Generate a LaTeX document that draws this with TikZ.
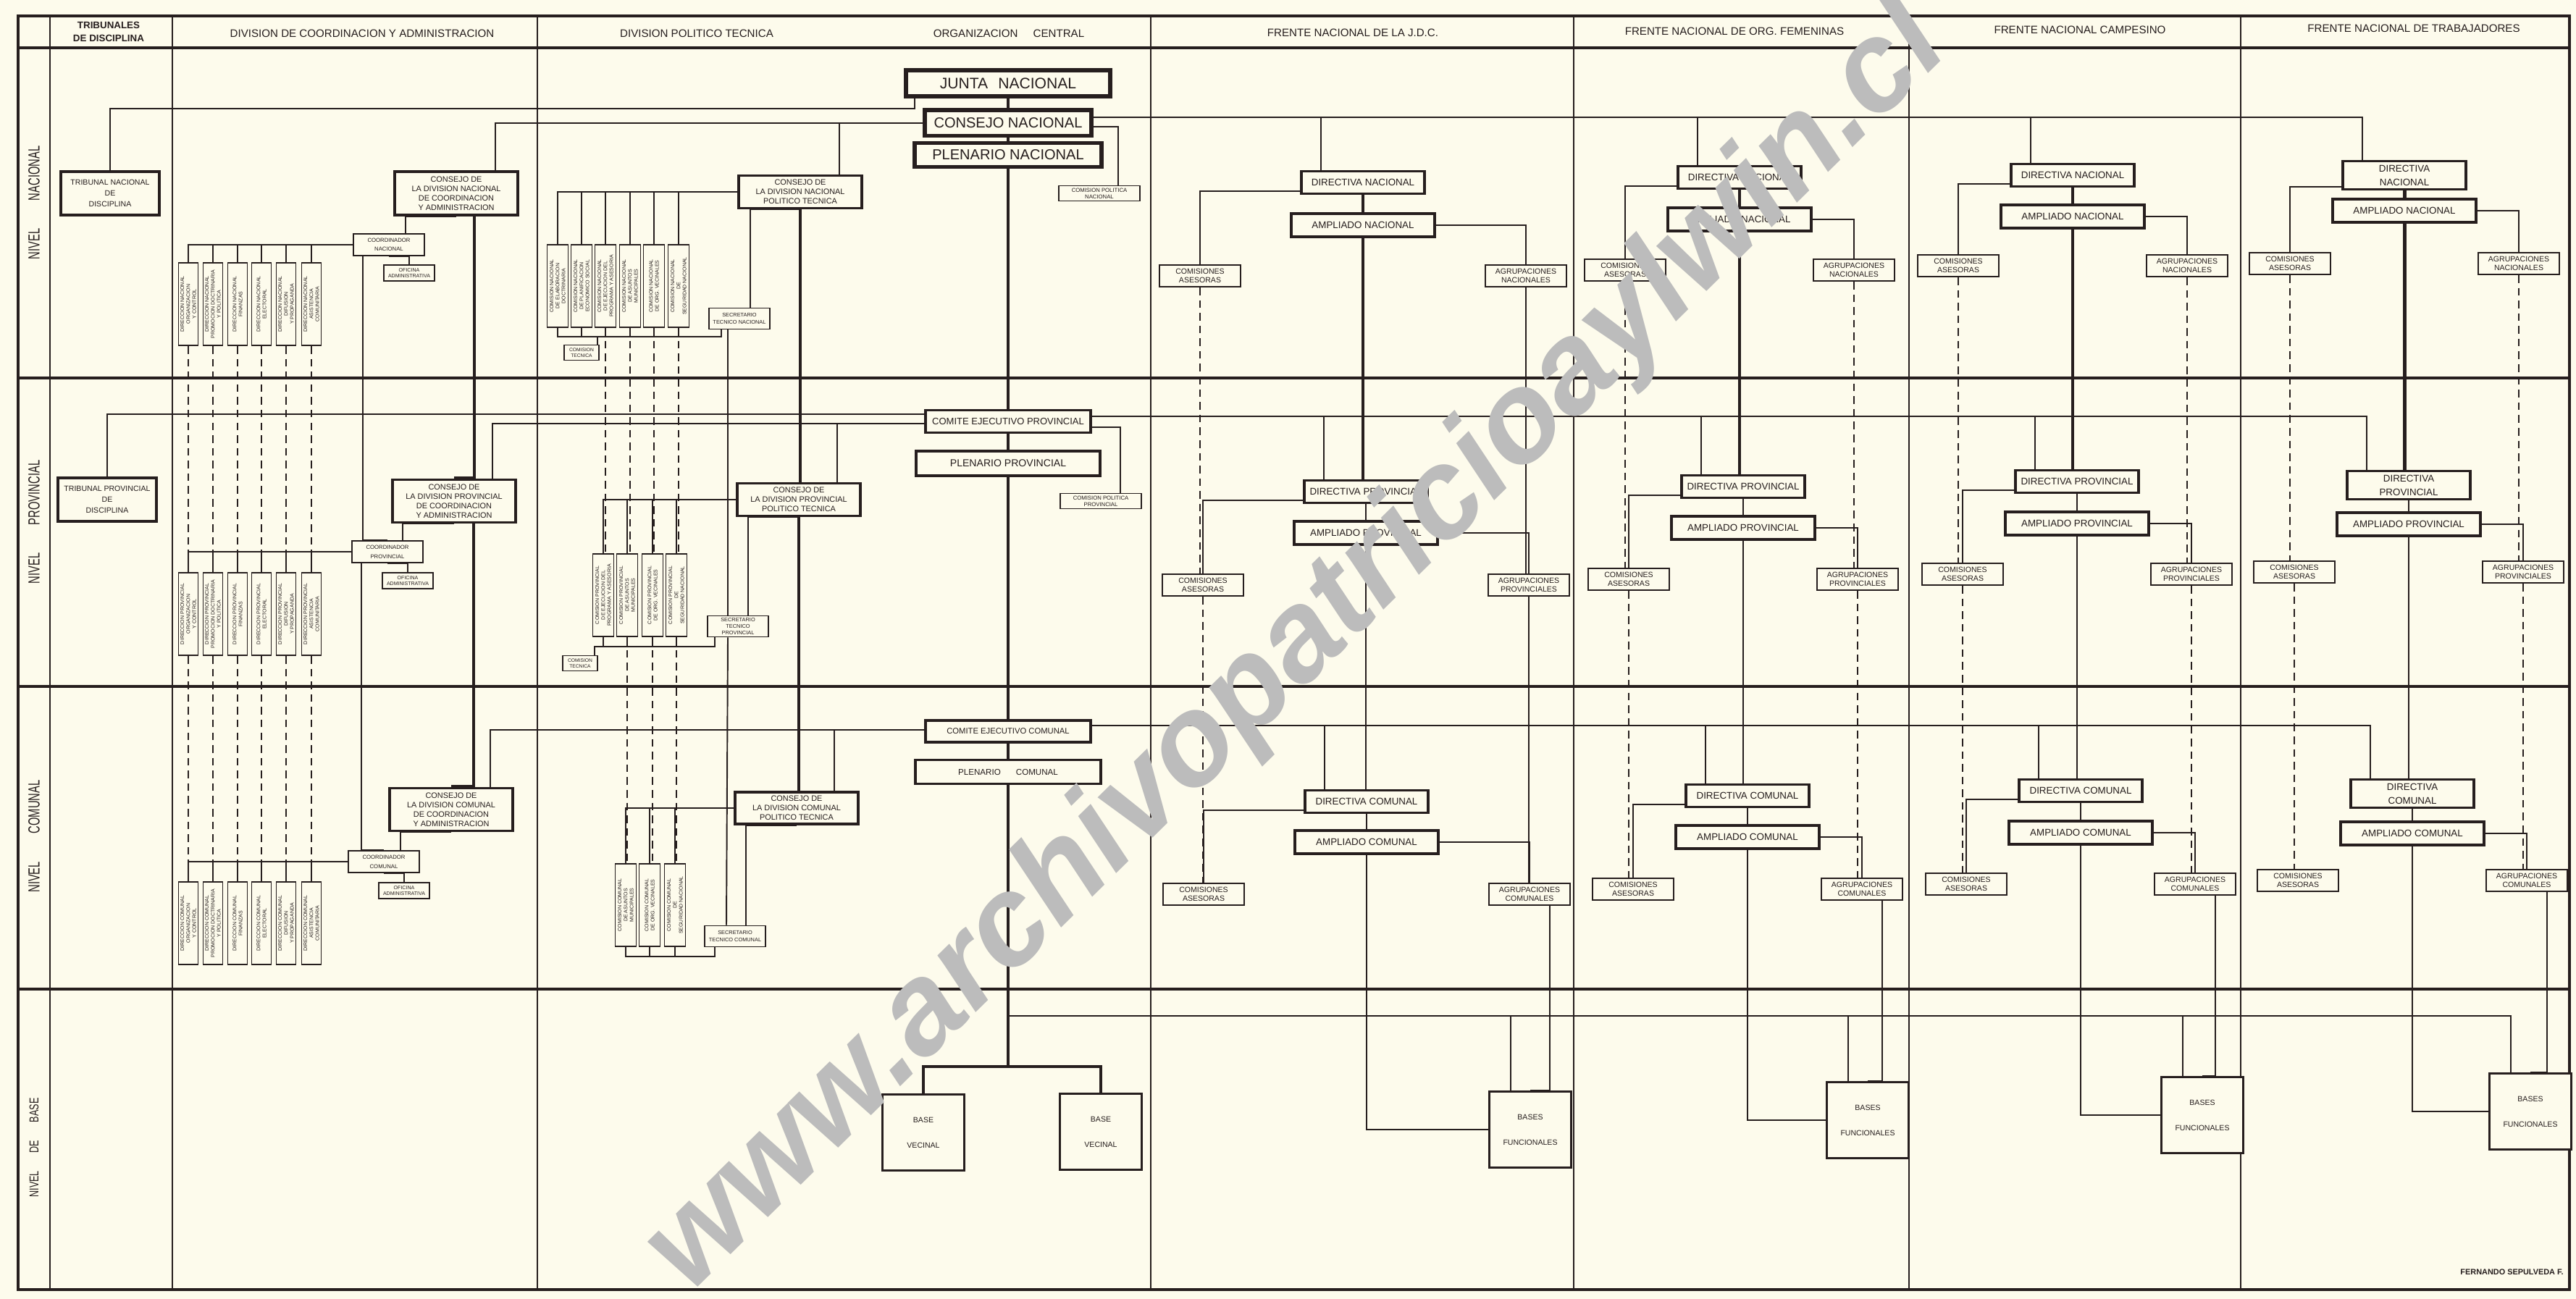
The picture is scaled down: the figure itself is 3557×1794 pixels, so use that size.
\documentclass[tikz,border=0pt]{standalone}
\usepackage{fontspec}
\setmainfont{Liberation Sans}
\usetikzlibrary{calc}
\definecolor{paper}{RGB}{253,251,236}
\definecolor{ink}{RGB}{38,30,30}
\definecolor{mark}{RGB}{188,188,188}
\newcommand{\fsz}[2]{\fontsize{#1}{#2}\selectfont}

\begin{document}
\begin{tikzpicture}[x=0.01cm,y=-0.01cm,
  gridline/.style={draw=ink,line width=0.9pt},
  colline/.style={draw=ink,line width=0.6pt},
  trunk/.style={draw=ink,line width=0.8pt},
  conn/.style={draw=ink,line width=0.55pt},
  spine/.style={draw=ink,line width=1.4pt},
  dsh/.style={draw=ink,line width=0.5pt,dash pattern=on 3pt off 2pt},
  obox/.style={draw=ink,fill=paper,text=ink,inner sep=0pt,align=center,line width=0.55pt},
  bigbox/.style={obox,line width=1.7pt},
  midbox/.style={obox,line width=1.1pt},
  colhead/.style={text=ink,align=center,font=\fsz{4.3}{5.4}},
  nivel/.style={text=ink,rotate=90,font=\fsz{4.2}{5}},
  vbox/.style={obox,rotate=90,minimum width=1.14cm,minimum height=0.27cm,font=\fsz{2}{2.35}},
  cons/.style={midbox,minimum width=1.70cm,font=\fsz{3.1}{3.7}},
  coordbox/.style={obox,minimum width=0.98cm,minimum height=0.30cm,font=\fsz{2.2}{3.6}},
  ofic/.style={obox,minimum width=0.70cm,minimum height=0.22cm,font=\fsz{2}{2.4}},
  secr/.style={obox,minimum width=0.84cm,minimum height=0.29cm,font=\fsz{2.1}{2.7}},
  ctec/.style={obox,minimum width=0.48cm,minimum height=0.21cm,font=\fsz{1.9}{2.4}},
  cpol/.style={obox,minimum width=1.12cm,minimum height=0.21cm,font=\fsz{2.2}{2.6}},
  trib/.style={midbox,minimum width=1.36cm,minimum height=0.60cm,font=\fsz{3}{4.2}},
  frdir/.style={midbox,inner ysep=1.5pt,minimum width=1.70cm,minimum height=0.31cm,font=\fsz{3.8}{5.4}},
  framp/.style={midbox,minimum width=1.98cm,minimum height=0.32cm,font=\fsz{3.8}{4.4}},
  frsml/.style={obox,minimum width=1.12cm,minimum height=0.30cm,font=\fsz{3}{3.5}},
  basebox/.style={obox,line width=0.8pt,minimum width=1.13cm,minimum height=1.05cm,font=\fsz{3}{10}},
]
\useasboundingbox (0,0) rectangle (3557,1794);
\fill[paper] (0,0) rectangle (3557,1794);

% cuadricula
\draw[gridline] (25,22) rectangle (3548,1781);
\draw[gridline] (25,66) -- (3548,66);
\foreach \y in {522,948,1366}
    \draw[gridline] (25,\y) -- (3548,\y);
\foreach \x in {69,238,742,1589,2173,2636,3094}
    \draw[colline] (\x,22) -- (\x,1781);

% titulos de columnas
\node[colhead,font=\fsz{3.8}{5.2}\bfseries] (htrib) at (150,44) {TRIBUNALES\\DE DISCIPLINA};
\node[colhead] (hdca) at (500,46) {DIVISION DE COORDINACION Y ADMINISTRACION};
\node[colhead] (hdpt) at (962,46) {DIVISION POLITICO TECNICA};
\node[colhead] (horg) at (1393,46) {ORGANIZACION\hspace{6pt}CENTRAL};
\node[colhead] (hjdc) at (1868,45) {FRENTE NACIONAL DE LA J.D.C.};
\node[colhead] (hfem) at (2395,43) {FRENTE NACIONAL DE ORG. FEMENINAS};
\node[colhead] (hcam) at (2872,41) {FRENTE NACIONAL CAMPESINO};
\node[colhead] (htra) at (3333,39) {FRENTE NACIONAL DE TRABAJADORES};

% niveles
\node[nivel] (nvnac) at (47,280) {\scalebox{1}[1.5]{NIVEL\hspace{11pt}NACIONAL}};
\node[nivel] (nvprov) at (47,721) {\scalebox{1}[1.5]{NIVEL\hspace{11pt}PROVINCIAL}};
\node[nivel] (nvcom) at (47,1155) {\scalebox{1}[1.5]{NIVEL\hspace{11pt}COMUNAL}};
\node[nivel,font=\fsz{3.6}{4}] (nvbase) at (47,1585) {\scalebox{1}[1.4]{NIVEL\hspace{7pt}DE\hspace{7pt}BASE}};

% organizacion central
\node[bigbox,minimum width=2.81cm,minimum height=0.36cm,font=\fsz{6}{7}] (junta) at (1392,115) {JUNTA\hspace{4pt}NACIONAL};
\node[bigbox,minimum width=2.30cm,minimum height=0.35cm,font=\fsz{5.7}{7}] (cnac) at (1392,170) {CONSEJO NACIONAL};
\node[bigbox,minimum width=2.58cm,minimum height=0.33cm,font=\fsz{5.7}{7}] (plnac) at (1392,214) {PLENARIO NACIONAL};
\node[cpol] (cpolnac) at (1518,267) {COMISION POLITICA\\NACIONAL};
\node[midbox,minimum width=2.28cm,minimum height=0.31cm,font=\fsz{3.7}{4.4}] (cep) at (1392,582) {COMITE EJECUTIVO PROVINCIAL};
\node[midbox,minimum width=2.54cm,minimum height=0.34cm,font=\fsz{4}{4.8}] (plp) at (1392,640) {PLENARIO PROVINCIAL};
\node[cpol] (cpolprov) at (1520,692) {COMISION POLITICA\\PROVINCIAL};
\node[midbox,minimum width=2.28cm,minimum height=0.30cm,font=\fsz{3.2}{4}] (cec) at (1392,1010) {COMITE EJECUTIVO COMUNAL};
\node[midbox,minimum width=2.56cm,minimum height=0.33cm,font=\fsz{3.3}{4}] (plc) at (1392,1066) {PLENARIO\hspace{6pt}COMUNAL};
\node[basebox] (bv1) at (1275,1564) {BASE\\VECINAL};
\node[basebox] (bv2) at (1520,1563) {BASE\\VECINAL};
\coordinate (fn) at ($(cnac.east)+(0,-8)$);
\coordinate (fp) at ($(cep.east)+(0,-7)$);
\coordinate (fc) at ($(cec.east)+(0,-8)$);
\coordinate (bj) at (1392,1473);
\coordinate (bb) at (1392,1403);

% tribunales
\node[trib] (tribnac) at (152,267) {TRIBUNAL NACIONAL\\DE\\DISCIPLINA};
\node[trib] (tribprov) at (148,690) {TRIBUNAL PROVINCIAL\\DE\\DISCIPLINA};

% division de coordinacion y administracion
\node[cons,minimum height=0.60cm] (ccn) at (630,267) {CONSEJO DE\\LA DIVISION NACIONAL\\DE COORDINACION\\Y ADMINISTRACION};
\node[cons,minimum height=0.59cm] (ccp) at (627,692) {CONSEJO DE\\LA DIVISION PROVINCIAL\\DE COORDINACION\\Y ADMINISTRACION};
\node[cons,minimum height=0.59cm] (ccc) at (623,1118) {CONSEJO DE\\LA DIVISION COMUNAL\\DE COORDINACION\\Y ADMINISTRACION};
\node[coordbox] (cdn) at (537,338) {COORDINADOR\\NACIONAL};
\node[coordbox] (cdp) at (535,762) {COORDINADOR\\PROVINCIAL};
\node[coordbox] (cdc) at (530,1190) {COORDINADOR\\COMUNAL};
\node[ofic] (ofn) at (565,377) {OFICINA\\ADMINISTRATIVA};
\node[ofic] (ofp) at (563,802) {OFICINA\\ADMINISTRATIVA};
\node[ofic] (ofc) at (558,1230) {OFICINA\\ADMINISTRATIVA};
\foreach \lv/\y/\nm in {n/420/NACIONAL,p/848/PROVINCIAL,c/1275/COMUNAL}
  \foreach \i/\x/\txt in {1/260/{ORGANIZACION\\Y CONTROL},2/294/{PROMOCION DOCTRINARIA\\Y POLITICA},3/328/FINANZAS,4/361/ELECTORAL,5/395/{DIFUSION\\Y PROPAGANDA},6/430/{ASISTENCIA\\COMUNITARIA}}
    \node[vbox] (d\lv\i) at (\x,\y) {DIRECCION \nm\\\txt};

% division politico tecnica
\node[cons,minimum height=0.45cm] (cpn) at (1105,265) {CONSEJO DE\\LA DIVISION NACIONAL\\POLITICO TECNICA};
\node[cons,minimum height=0.45cm] (cpp) at (1103,690) {CONSEJO DE\\LA DIVISION PROVINCIAL\\POLITICO TECNICA};
\node[cons,minimum height=0.44cm] (cpc) at (1100,1116) {CONSEJO DE\\LA DIVISION COMUNAL\\POLITICO TECNICA};
\node[secr] (stn) at (1021,440) {SECRETARIO\\TECNICO NACIONAL};
\node[secr,font=\fsz{2.1}{2.5}] (stp) at (1019,865) {SECRETARIO\\TECNICO\\PROVINCIAL};
\node[secr] (stc) at (1015,1293) {SECRETARIO\\TECNICO COMUNAL};
\node[ctec] (ctn) at (803,487) {COMISION\\TECNICA};
\node[ctec] (ctp) at (801,916) {COMISION\\TECNICA};
\foreach \i/\x/\txt in {1/770/{DE ELABORACION\\DOCTRINARIA},2/803/{DE PLANIFICACION\\ECONOMICO SOCIAL},3/836/{DE EJECUCION DEL\\PROGRAMA Y ASESORIA},4/870/{DE ASUNTOS\\MUNICIPALES},5/903/{DE ORG. VECINALES},6/937/{DE\\SEGURIDAD NACIONAL}}
    \node[vbox,minimum height=0.29cm] (cn\i) at (\x,395) {COMISION NACIONAL\\\txt};
\foreach \i/\x/\txt in {3/833/{DE EJECUCION DEL\\PROGRAMA Y ASESORIA},4/866/{DE ASUNTOS\\MUNICIPALES},5/901/{DE ORG. VECINALES},6/934/{DE\\SEGURIDAD NACIONAL}}
    \node[vbox,minimum height=0.29cm] (cp\i) at (\x,822) {COMISION PROVINCIAL\\\txt};
\foreach \i/\x/\txt in {4/864/{DE ASUNTOS\\MUNICIPALES},5/897/{DE ORG. VECINALES},6/932/{DE\\SEGURIDAD NACIONAL}}
    \node[vbox,minimum height=0.29cm] (cc\i) at (\x,1250) {COMISION COMUNAL\\\txt};
\coordinate (bn) at (996,465);
\coordinate (bp) at (987,893);
\coordinate (bc) at (987,1321);

% frentes
\foreach \f/\x/\yd/\ya/\yc/\off/\txt in {j/1882/252/311/381/225/{DIRECTIVA NACIONAL},f/2402/245/303/373/158/{DIRECTIVA NACIONAL},c/2862/242/299/367/158/{DIRECTIVA NACIONAL},t/3320/242/291/364/158/{DIRECTIVA\\NACIONAL}}
{
    \node[frdir] (dirn\f) at (\x,\yd) {\txt};
    \node[framp] (ampn\f) at (\x,\ya) {AMPLIADO NACIONAL};
    \node[frsml] (comn\f) at (\x-\off,\yc) {COMISIONES\\ASESORAS};
    \node[frsml] (agrn\f) at (\x+\off,\yc) {AGRUPACIONES\\NACIONALES};
}
\foreach \f/\x/\yd/\ya/\yc/\off/\txt in {j/1886/679/736/808/225/{DIRECTIVA PROVINCIAL},f/2407/672/729/800/158/{DIRECTIVA PROVINCIAL},c/2868/665/723/793/158/{DIRECTIVA PROVINCIAL},t/3326/670/724/790/158/{DIRECTIVA\\PROVINCIAL}}
{
    \node[frdir] (dirp\f) at (\x,\yd) {\txt};
    \node[framp] (ampp\f) at (\x,\ya) {AMPLIADO PROVINCIAL};
    \node[frsml] (comp\f) at (\x-\off,\yc) {COMISIONES\\ASESORAS};
    \node[frsml] (agrp\f) at (\x+\off,\yc) {AGRUPACIONES\\PROVINCIALES};
}
\foreach \f/\x/\yd/\ya/\yc/\off/\txt in {j/1887/1107/1163/1235/225/{DIRECTIVA COMUNAL},f/2413/1099/1156/1228/158/{DIRECTIVA COMUNAL},c/2873/1092/1150/1221/158/{DIRECTIVA COMUNAL},t/3331/1096/1151/1216/158/{DIRECTIVA\\COMUNAL}}
{
    \node[frdir] (dirc\f) at (\x,\yd) {\txt};
    \node[framp] (ampc\f) at (\x,\ya) {AMPLIADO COMUNAL};
    \node[frsml] (comc\f) at (\x-\off,\yc) {COMISIONES\\ASESORAS};
    \node[frsml] (agrc\f) at (\x+\off,\yc) {AGRUPACIONES\\COMUNALES};
}
\foreach \f/\x/\y in {j/2113/1560,f/2579/1547,c/3041/1540,t/3494/1535}
    \node[basebox] (bf\f) at (\x,\y) {BASES\\FUNCIONALES};

% eje central
\draw[spine] (junta.south) -- (junta.south |- cnac.north);
\draw[spine] (cnac.south) -- (cnac.south |- plnac.north);
\draw[spine] (plnac.south) -- (plnac.south |- cep.north);
\draw[spine] (cep.south) -- (cep.south |- plp.north);
\draw[spine] (plp.south) -- (plp.south |- cec.north);
\draw[spine] (cec.south) -- (cec.south |- plc.north);
\draw[spine] (plc.south) -- (bj);
\draw[spine] (bv1.north) |- (bj) -| (bv2.north);

% nivel nacional
\coordinate (tj) at (1263,150);
\draw[trunk] (tribnac.north) |- (tj) -- (tj |- junta.south);
\draw[trunk] ($(ccn.north)+(54,0)$) |- (cnac.west);
\draw[trunk] ($(cpn.north)+(54,0)$) |- (cnac.west);
\draw[conn] ($(cnac.east)+(0,5)$) -| ($(cpolnac.north)+(26,0)$);

% nivel provincial
\draw[trunk] (tribprov.north) |- ($(cep.west)+(0,-10)$);
\draw[trunk] ($(ccp.north)+(53,0)$) |- ($(cep.west)+(0,3)$);
\draw[trunk] ($(cpp.north)+(53,0)$) |- ($(cep.west)+(0,3)$);
\draw[conn] ($(cep.east)+(0,8)$) -| ($(cpolprov.north)+(27,0)$);

% nivel comunal
\draw[trunk] ($(ccc.north)+(54,0)$) |- ($(cec.west)+(0,-2)$);
\draw[trunk] ($(cpc.north)+(52,0)$) |- ($(cec.west)+(0,-2)$);

% coordinacion: enlaces
\draw[conn] ($(cdn.north)+(23,0)$) |- (ccn.south);
\draw[conn] ($(cdp.north)+(21,0)$) |- (ccp.south);
\draw[conn] ($(cdc.north)+(23,0)$) |- (ccc.south);
\draw[conn] (ofn.north) |- (cdn.south);
\draw[conn] (ofp.north) |- (cdp.south);
\draw[conn] (ofc.north) |- (cdc.south);
\draw[conn] ($(cdn.south)+(-36,0)$) |- (cdp.north);
\draw[conn] ($(cdp.south)+(-36,0)$) |- (cdc.north);
\draw[spine] ($(ccn.south)+(25,0)$) |- (ccp.north);
\draw[spine] ($(ccp.south)+(27,0)$) |- (ccc.north);
\foreach \i in {1,...,6}
{
    \draw[conn] (dn\i.east) |- (cdn.west);
    \draw[conn] (dp\i.east) |- (cdp.west);
    \draw[conn] (dc\i.east) |- (cdc.west);
    \draw[dsh] (dn\i.west) -- (dn\i.west |- dp\i.east);
    \draw[dsh] (dp\i.west) -- (dp\i.west |- dc\i.east);
}

% politico tecnica: enlaces
\foreach \i in {1,...,6}
{
    \draw[conn] (cn\i.east) |- (cpn.west);
    \draw[conn] (cn\i.west) -- (cn\i.west |- bn);
}
\foreach \i in {3,...,6}
{
    \draw[conn] (cp\i.east) |- (cpp.west);
    \draw[conn] (cp\i.west) -- (cp\i.west |- bp);
    \draw[dsh] (cn\i.west) -- (cn\i.west |- cp\i.east);
}
\foreach \i in {4,...,6}
{
    \draw[conn] (cc\i.east) |- (cpc.west);
    \draw[conn] (cc\i.west) -- (cc\i.west |- bc);
    \draw[dsh] (cp\i.west) -- (cp\i.west |- cc\i.east);
}
\draw[conn] (cn1.west) |- (bn) -- (bn |- stn.south);
\draw[conn] (cp3.west) |- (bp) -- (bp |- stp.south);
\draw[conn] (cc4.west) |- (bc) -- (bc |- stc.south);
\draw[conn] ($(ctn.north east)+(-3,0)$) |- (bn);
\draw[conn] ($(ctp.north east)+(-5,0)$) |- (bp);
\draw[conn] ($(stn.north)+(15,0)$) |- (cpn.south);
\draw[conn] ($(stp.north)+(14,0)$) |- (cpp.south);
\draw[conn] ($(stc.north)+(15,0)$) |- (cpc.south);
\draw[conn] ($(stn.south)+(-16,0)$) -- ($(stp.north)+(-14,0)$);
\draw[conn] ($(stp.south)+(-14,0)$) -- ($(stc.north)+(-12,0)$);
\draw[spine] (cpn.south) -- (cpn.south |- cpp.north);
\draw[spine] (cpp.south) -- (cpp.south |- cpc.north);

% frentes: enlaces
\foreach \f/\sty in {j/conn,f/dsh,c/dsh,t/dsh}
{
    \draw[spine] (dirn\f.south) -- (dirn\f.south |- ampn\f.north);
    \draw[spine] (ampn\f.south) -- (ampn\f.south |- dirp\f.north);
    \draw[trunk] (dirp\f.south) -- (dirp\f.south |- ampp\f.north);
    \draw[trunk] (ampp\f.south) -- (ampp\f.south |- dirc\f.north);
    \draw[trunk] (dirc\f.south) -- (dirc\f.south |- ampc\f.north);
    \draw[conn] (ampc\f.south) |- (bf\f.west);
    \draw[conn] ($(dirn\f.south west)+(0,-5)$) -| (comn\f.north);
    \draw[conn] (ampn\f.east) -| (agrn\f.north);
    \draw[conn] (ampp\f.east) -| (agrp\f.north);
    \draw[conn] (ampc\f.east) -| (agrc\f.north);
    \draw[dsh] (comn\f.south) -- (comn\f.south |- comp\f.north);
    \draw[dsh] (comp\f.south) -- (comp\f.south |- comc\f.north);
    \draw[\sty] (agrn\f.south) -- (agrn\f.south |- agrp\f.north);
    \draw[\sty] (agrp\f.south) -- (agrp\f.south |- agrc\f.north);
    \draw[conn] ($(agrc\f.south)+(28,0)$) |- (bf\f.north);
    \draw[trunk] ($(dirn\f.north)+(-58,0)$) |- (fn);
    \draw[trunk] ($(dirp\f.north)+(-58,0)$) |- (fp);
    \draw[trunk] ($(dirc\f.north)+(-58,0)$) |- (fc);
    \draw[trunk] ($(bf\f.north)+(-27,0)$) |- (bb);
}
\foreach \f in {j,f,c}
{
    \draw[conn] ($(dirp\f.south west)+(0,-5)$) -| (comp\f.north);
    \draw[conn] ($(dirc\f.south west)+(0,-5)$) -| (comc\f.north);
}

\node[anchor=east,text=ink,font=\fsz{3.1}{4}\bfseries] (firma) at (3552,1757) {FERNANDO SEPULVEDA F.};

% marca de agua
\node[rotate=44.6,text=mark,font=\fsz{50}{50}\bfseries\itshape] (wmark) at (1792,896) {www.archivopatricioaylwin.cl};
\end{tikzpicture}
\end{document}
